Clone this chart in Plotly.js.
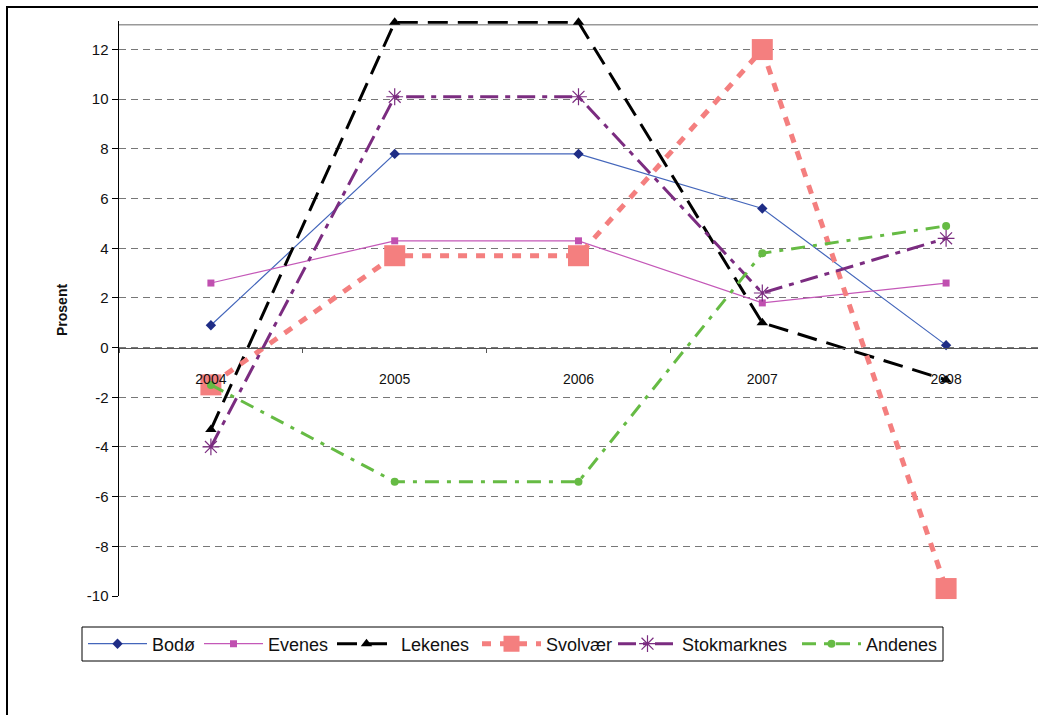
<!DOCTYPE html>
<html>
<head>
<meta charset="utf-8">
<script src="https://cdn.plot.ly/plotly-3.0.1.min.js"></script>
<style>html,body{margin:0;padding:0;background:#fff;}#chart{width:1038px;height:715px;}</style>
</head>
<body>
<div id="chart"></div>
<script>
const years = ["2004", "2005", "2006", "2007", "2008"];
const bodo = [0.9, 7.8, 7.8, 5.6, 0.1];
const evenes = [2.6, 4.3, 4.3, 1.8, 2.6];
const lekenes = [-3.3, 13.1, 13.1, 1.0, -1.3];
const svolvaer = [-1.5, 3.7, 3.7, 12.0, -9.7];
const stokmarknes = [-4.0, 10.1, 10.1, 2.2, 4.4];
const andenes = [-1.5, -5.4, -5.4, 3.8, 4.9];
const yTicks = [-10, -8, -6, -4, -2, 0, 2, 4, 6, 8, 10, 12];

const W = 1038, H = 715;
const L = 119, R = 0, T = 21, B = 119;
const pw = W - L - R, ph = H - T - B;
const px = x => (x - L) / pw;
const py = y => (H - B - y) / ph;
const yMin = -10, yMax = 13.15;

const font = "Liberation Sans, Arial, sans-serif";

// legend entry left positions (pixels) for each series
const legendX = [88, 204, 337, 482, 618, 802];

const traces = [
  {name: "Bodø", y: bodo, line: {color: "#4466BB", width: 1.2},
   marker: {symbol: "diamond", size: 8, color: "#1F2D86"}},
  {name: "Evenes", y: evenes, line: {color: "#C458B8", width: 1.2},
   marker: {symbol: "square", size: 7, color: "#C050B0"}},
  {name: "Lekenes", y: lekenes, line: {color: "#000000", width: 3, dash: "20px,10px"},
   marker: {symbol: "triangle-up", size: 10, color: "#000000"}},
  {name: "Svolvær", y: svolvaer, line: {color: "#F47F7F", width: 5, dash: "9px,9px"},
   marker: {symbol: "square", size: 21, color: "#F47F7F"}},
  {name: "Stokmarknes", y: stokmarknes, line: {color: "#7B2C80", width: 3, dash: "18px,7px,5px,7px"},
   marker: {symbol: "asterisk-open", size: 14, color: "#7B2C80", line: {color: "#7B2C80", width: 1.2}}},
  {name: "Andenes", y: andenes, line: {color: "#66BB44", width: 3, dash: "14px,8px,4px,8px"},
   marker: {symbol: "circle", size: 8, color: "#66BB44"}}
].map((t, i) => Object.assign({type: "scatter", mode: "lines+markers", x: years, cliponaxis: false,
  legend: i === 0 ? "legend" : "legend" + (i + 1)}, t));

const layout = {
  width: W, height: H,
  margin: {l: L, r: R, t: T, b: B, pad: 0},
  paper_bgcolor: "#fff", plot_bgcolor: "#fff",
  font: {family: font, size: 14, color: "#111"},
  showlegend: true,
  xaxis: {
    type: "category", range: [-0.5, 4.5],
    anchor: "free", position: (0 - yMin) / (yMax - yMin),
    showline: true, linecolor: "#555", linewidth: 1.5,
    ticks: "outside", ticklen: 4, tickcolor: "#555", tickson: "boundaries",
    showgrid: false, zeroline: false,
    ticklabelstandoff: 18,
    tickfont: {size: 14, family: font, color: "#111"}
  },
  yaxis: {
    range: [yMin, yMax], tickvals: yTicks, ticktext: yTicks.map(String),
    showline: true, linecolor: "#000", linewidth: 1.5,
    ticks: "outside", ticklen: 6, tickcolor: "#000",
    showgrid: true, gridcolor: "#777", griddash: "7px,5px", gridwidth: 1,
    zeroline: false,
    tickfont: {size: 15, family: font, color: "#111"}
  },
  annotations: [{
    text: "<b>Prosent</b>", xref: "paper", yref: "paper",
    x: px(62), y: py(310), xanchor: "center", yanchor: "middle",
    textangle: -90, showarrow: false,
    font: {size: 14, family: font, color: "#111"}
  }],
  shapes: [
    {type: "line", xref: "paper", yref: "y", x0: 0, x1: 1, y0: 13, y1: 13,
     line: {color: "#999", width: 1.5}, layer: "below"},
    {type: "rect", xref: "paper", yref: "paper",
     x0: px(7), x1: px(1060), y0: py(7), y1: py(740),
     line: {color: "#000", width: 2}},
    {type: "rect", xref: "paper", yref: "paper",
     x0: px(82), x1: px(943), y0: py(627), y1: py(661),
     line: {color: "#000", width: 1}, fillcolor: "rgba(0,0,0,0)"}
  ]
};

legendX.forEach((lx, i) => {
  const key = i === 0 ? "legend" : "legend" + (i + 1);
  layout[key] = {
    orientation: "h", x: px(lx - 5), xanchor: "left", y: py(644), yanchor: "middle",
    borderwidth: 0, bgcolor: "rgba(0,0,0,0)", itemwidth: 59,
    font: {size: 18, family: font, color: "#111"}
  };
});

Plotly.newPlot("chart", traces, layout, {displayModeBar: false, staticPlot: true});
</script>
</body>
</html>
